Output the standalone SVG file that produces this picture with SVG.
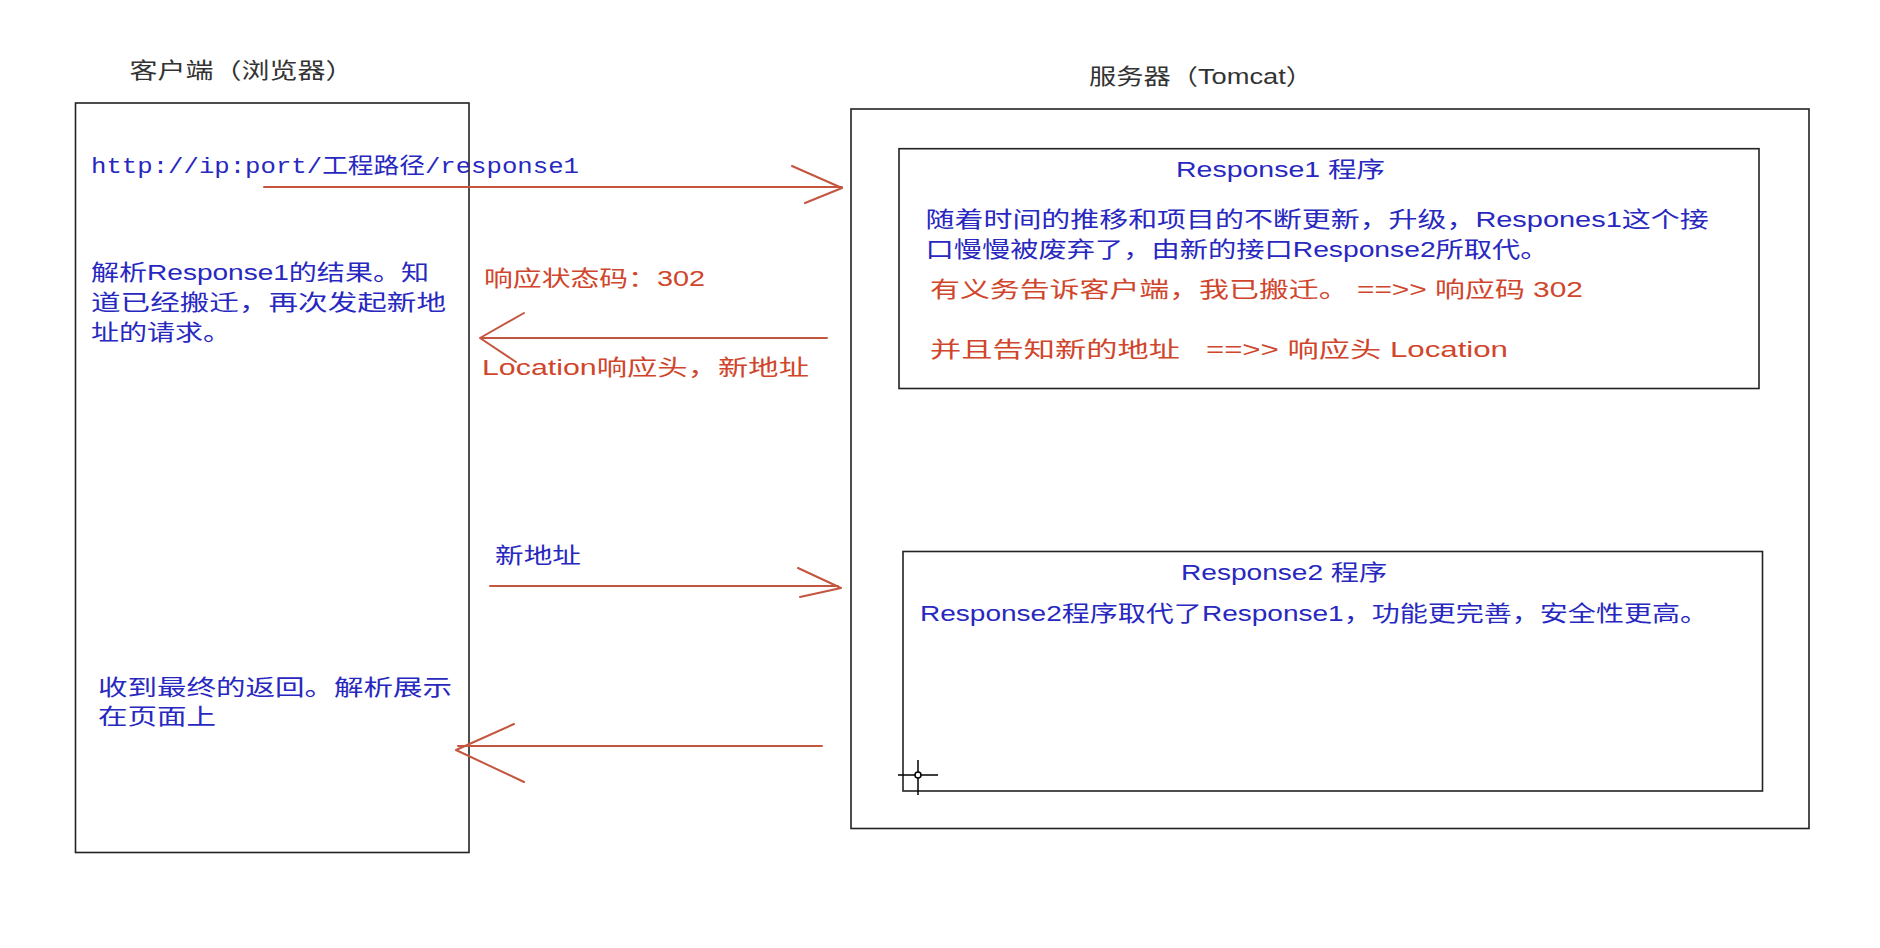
<svg xmlns="http://www.w3.org/2000/svg" width="1880" height="948" viewBox="0 0 1880 948">
<style>
.box{fill:none;stroke:#222;stroke-width:1.6}
.t{font-family:"Liberation Sans","Noto Sans CJK SC",sans-serif;font-size:22px}
.title{fill:#333}
.blue{fill:#2828c0}
.red{fill:#d0462c}
.mono{font-family:"Liberation Mono","Noto Sans CJK SC",monospace}
.arr{fill:none;stroke:#c4553e;stroke-width:2;stroke-linecap:round;stroke-linejoin:round}
.cur{fill:none;stroke:#000;stroke-width:1.5}
</style>
<rect width="1880" height="948" fill="#ffffff"/>

<g id="client">
<text class="t title" x="129.5" y="78" textLength="224" lengthAdjust="spacingAndGlyphs">客户端（浏览器）</text>
<rect class="box" x="75.5" y="103" width="393.5" height="749.5"/>
<text class="t blue mono" x="91" y="173" textLength="488" lengthAdjust="spacingAndGlyphs">http://ip:port/工程路径/response1</text>
<text class="t blue" x="91" y="280" textLength="338" lengthAdjust="spacingAndGlyphs">解析Response1的结果。知</text>
<text class="t blue" x="91" y="310" textLength="355" lengthAdjust="spacingAndGlyphs">道已经搬迁，再次发起新地</text>
<text class="t blue" x="91" y="340" textLength="140" lengthAdjust="spacingAndGlyphs">址的请求。</text>
<text class="t blue" x="98" y="695" textLength="354" lengthAdjust="spacingAndGlyphs">收到最终的返回。解析展示</text>
<text class="t blue" x="98" y="724" textLength="118" lengthAdjust="spacingAndGlyphs">在页面上</text>
</g>

<g id="server">
<text class="t title" x="1089" y="84" textLength="224" lengthAdjust="spacingAndGlyphs">服务器（Tomcat）</text>
<rect class="box" x="851" y="109" width="958" height="719.5"/>
</g>

<g id="response1">
<rect class="box" x="899" y="148.7" width="860" height="239.8"/>
<text class="t blue" x="1176" y="177" textLength="209" lengthAdjust="spacingAndGlyphs">Response1 程序</text>
<text class="t blue" x="925.6" y="227" textLength="783" lengthAdjust="spacingAndGlyphs">随着时间的推移和项目的不断更新，升级，Respones1这个接</text>
<text class="t blue" x="925.6" y="257" textLength="623" lengthAdjust="spacingAndGlyphs">口慢慢被废弃了，由新的接口Response2所取代。</text>
<text class="t red" x="930" y="297" textLength="653" lengthAdjust="spacingAndGlyphs">有义务告诉客户端，我已搬迁。 ==&gt;&gt; 响应码 302</text>
<text class="t red" x="930" y="357" textLength="578" lengthAdjust="spacingAndGlyphs" xml:space="preserve">并且告知新的地址   ==&gt;&gt; 响应头 Location</text>
</g>

<g id="response2">
<rect class="box" x="903" y="551.5" width="859.5" height="239.5"/>
<text class="t blue" x="1181" y="580" textLength="206" lengthAdjust="spacingAndGlyphs">Response2 程序</text>
<text class="t blue" x="920" y="621" textLength="788" lengthAdjust="spacingAndGlyphs">Response2程序取代了Response1，功能更完善，安全性更高。</text>
</g>

<g id="labels">
<text class="t red" x="484" y="286" textLength="221" lengthAdjust="spacingAndGlyphs">响应状态码：302</text>
<text class="t red" x="482" y="375" textLength="327" lengthAdjust="spacingAndGlyphs">Location响应头，新地址</text>
<text class="t blue" x="495" y="563" textLength="86" lengthAdjust="spacingAndGlyphs">新地址</text>
</g>

<g id="connectors">
<path class="arr" d="M264 187 H842 M792 166 L842 188 L805 203"/>
<path class="arr" d="M827 338 H482 M524 313 L480 338 L516 362"/>
<path class="arr" d="M490 586 H838 M798 568 L841 588 L800 597"/>
<path class="arr" d="M822 746 H458 M514 724 L456 750 L524 782"/>
</g>

<g id="cursor">
<path class="cur" d="M898 775 H938 M918 760 V795"/>
<circle cx="918" cy="775" r="3" fill="#fff" stroke="#000" stroke-width="1.5"/>
</g>
</svg>
